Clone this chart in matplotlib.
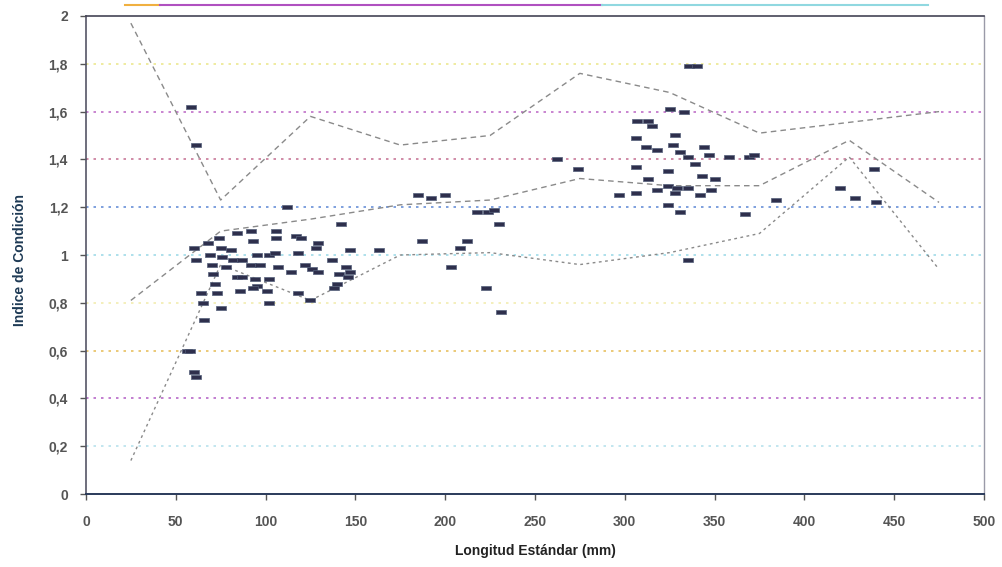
import matplotlib
matplotlib.use("Agg")
import matplotlib.pyplot as plt
from matplotlib.ticker import FuncFormatter
from matplotlib.lines import Line2D

# longitud estandar (mm) vs indice de condicion
long_pts = [58.6, 61, 112, 84, 92, 106, 74, 93, 106, 117, 120, 129, 68, 75, 81, 60,
            61, 69, 76, 82, 87, 95, 92, 97, 102, 105, 107, 118, 128, 137, 70, 78,
            114, 122, 126, 129, 71, 84, 87, 94, 102, 72, 95, 101, 86, 93, 64, 73,
            65, 75, 102, 118, 125, 66, 56, 58, 60, 61, 141, 146, 140, 138, 145, 147,
            142, 147, 163, 185, 192, 200, 187, 203, 212, 208, 218, 224, 227, 230,
            223, 231, 262, 274, 336, 340, 325, 333, 307, 313, 315, 306, 328, 312,
            318, 327, 344, 331, 335, 347, 358, 369, 372, 339, 306, 324, 313, 343,
            350, 324, 329, 335, 318, 348, 297, 306, 328, 342, 324, 331, 335, 367,
            384, 420, 428, 439, 440]
indice_pts = [1.62, 1.46, 1.20, 1.09, 1.10, 1.10, 1.07, 1.06, 1.07, 1.08, 1.07, 1.05,
              1.05, 1.03, 1.02, 1.03, 0.98, 1.00, 0.99, 0.98, 0.98, 1.00, 0.96, 0.96,
              1.00, 1.01, 0.95, 1.01, 1.03, 0.98, 0.96, 0.95, 0.93, 0.96, 0.94, 0.93,
              0.92, 0.91, 0.91, 0.90, 0.90, 0.88, 0.87, 0.85, 0.85, 0.86, 0.84, 0.84,
              0.80, 0.78, 0.80, 0.84, 0.81, 0.73, 0.60, 0.60, 0.51, 0.49, 0.92, 0.91,
              0.88, 0.86, 0.95, 0.93, 1.13, 1.02, 1.02, 1.25, 1.24, 1.25, 1.06, 0.95,
              1.06, 1.03, 1.18, 1.18, 1.19, 1.13, 0.86, 0.76, 1.40, 1.36, 1.79, 1.79,
              1.61, 1.60, 1.56, 1.56, 1.54, 1.49, 1.50, 1.45, 1.44, 1.46, 1.45, 1.43,
              1.41, 1.42, 1.41, 1.41, 1.42, 1.38, 1.37, 1.35, 1.32, 1.33, 1.32, 1.29,
              1.28, 1.28, 1.27, 1.27, 1.25, 1.26, 1.26, 1.25, 1.21, 1.18, 0.98, 1.17,
              1.23, 1.28, 1.24, 1.36, 1.22]

# intervalos de clase y curvas
clases = [25, 75, 125, 175, 225, 275, 325, 375, 425, 475]
limite_sup = [1.97, 1.23, 1.58, 1.46, 1.50, 1.76, 1.68, 1.51, 1.555, 1.60]
promedio = [0.81, 1.10, 1.15, 1.21, 1.23, 1.32, 1.29, 1.29, 1.48, 1.22]
limite_inf = [0.14, 0.96, 0.81, 1.00, 1.01, 0.96, 1.01, 1.09, 1.41, 0.94]

y_ticks = [0, 0.2, 0.4, 0.6, 0.8, 1.0, 1.2, 1.4, 1.6, 1.8, 2.0]
x_ticks = [0, 50, 100, 150, 200, 250, 300, 350, 400, 450, 500]
grid_colors = {0.2: '#b8e2ec', 0.4: '#b868c8', 0.6: '#e8c060', 0.8: '#f2ecb0',
               1.0: '#a0dae8', 1.2: '#6890d8', 1.4: '#c87898', 1.6: '#c070c8',
               1.8: '#ece890'}

plt.rcParams['font.family'] = ['Liberation Sans', 'DejaVu Sans']

fig = plt.figure(figsize=(10.03, 5.67), dpi=100)
ax = fig.add_axes([0.0857, 0.1287, 0.8953, 0.8431])

# lineas de rejilla punteadas de colores
for yv, c in grid_colors.items():
    ax.axhline(yv, color=c, lw=1.2, ls=(0, (1.5, 3)), zorder=1)

# curvas
ax.plot(clases, limite_sup, color='#8a8a8a', lw=1, ls=(0, (4, 3)), zorder=2)
ax.plot(clases, promedio, color='#8a8a8a', lw=1, ls=(0, (4, 3)), zorder=2)
ax.plot(clases, limite_inf, color='#8a8a8a', lw=1, ls=(0, (2, 2.5)), zorder=2)

# marcadores tipo guion (rectangulo)
rect = [(-1, -0.45), (1, -0.45), (1, 0.45), (-1, 0.45), (-1, -0.45)]
ax.scatter(long_pts, indice_pts, marker=rect, s=60, c='#2e2f4c',
           edgecolors='#55607a', linewidths=0.5, zorder=3)

ax.set_xlim(0, 500)
ax.set_ylim(0, 2)
ax.set_xticks(x_ticks)
ax.set_yticks(y_ticks)

def coma(v, pos):
    s = ('%g' % round(v, 1))
    return s.replace('.', ',')

ax.yaxis.set_major_formatter(FuncFormatter(coma))
ax.xaxis.set_major_formatter(FuncFormatter(lambda v, p: '%d' % v))
ax.tick_params(axis='both', labelsize=10, colors='#555555', length=4, width=1,
               direction='out')
ax.tick_params(axis='x', pad=11)
ax.tick_params(axis='y', pad=9)
for lab in ax.get_xticklabels() + ax.get_yticklabels():
    lab.set_fontweight('bold')

ax.spines['left'].set_color('#555566')
ax.spines['left'].set_linewidth(1.2)
ax.spines['bottom'].set_color('#2a3a5a')
ax.spines['bottom'].set_linewidth(1.4)
ax.spines['top'].set_color('#444455')
ax.spines['top'].set_linewidth(1.2)
ax.spines['right'].set_color('#9a9aa8')
ax.spines['right'].set_linewidth(1)

ax.set_xlabel('Longitud Estándar (mm)', fontsize=10, fontweight='bold',
              color='#222222', labelpad=11)
ax.set_ylabel('Indice de Condición', fontsize=10, fontweight='bold',
              color='#1e3a55')
ax.yaxis.set_label_coords(-0.066, 0.49)

# trazo coloreado sobre el grafico (como en el escaneo)
fig.add_artist(Line2D([0.125, 0.16], [0.991, 0.991], color='#f0b040', lw=1.5))
fig.add_artist(Line2D([0.16, 0.6], [0.991, 0.991], color='#b050c0', lw=1.5))
fig.add_artist(Line2D([0.6, 0.925], [0.991, 0.991], color='#90d8e0', lw=1.5))

fig.savefig('out.png', dpi=100)
